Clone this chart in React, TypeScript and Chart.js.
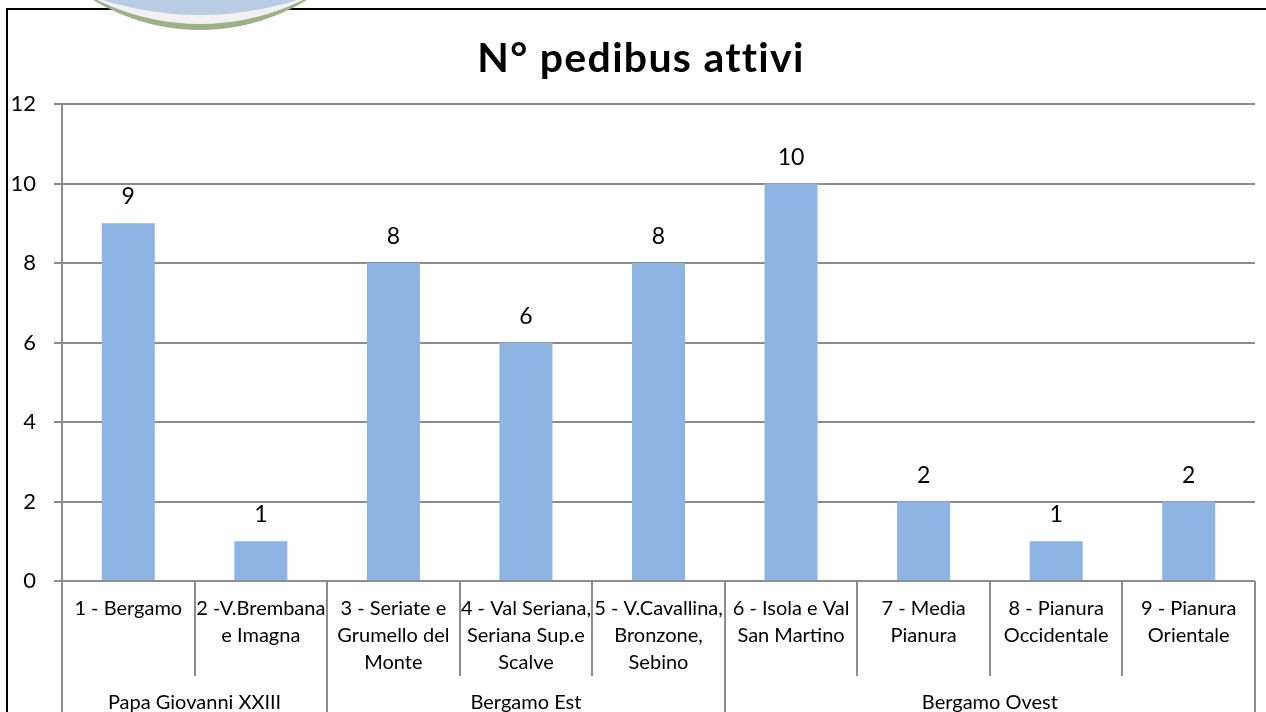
import React, { useEffect, useRef } from "react";
import { Chart, registerables } from "chart.js";

Chart.register(...registerables);

const categories: string[][] = [
  ["1 - Bergamo"],
  ["2 -V.Brembana", "e Imagna"],
  ["3 - Seriate e", "Grumello del", "Monte"],
  ["4 - Val Seriana,", "Seriana Sup.e", "Scalve"],
  ["5 - V.Cavallina,", "Bronzone,", "Sebino"],
  ["6 - Isola e Val", "San Martino"],
  ["7 - Media", "Pianura"],
  ["8 - Pianura", "Occidentale"],
  ["9 - Pianura", "Orientale"],
];
const values: number[] = [9, 1, 8, 6, 8, 10, 2, 1, 2];
const groups: string[] = ["Papa Giovanni XXIII", "Bergamo Est", "Bergamo Ovest"];
const groupStarts: number[] = [0, 2, 5];
const groupEnds: number[] = [2, 5, 9];
const titleText = "N° pedibus attivi";

const FONT = "Lato, 'Open Sans', sans-serif";
const GRID = "#8c8c8c";

const drawPlugin = {
  id: "custom",
  beforeDraw(chart: any) {
    const { ctx, width, height } = chart;
    ctx.save();
    ctx.fillStyle = "#fff";
    ctx.fillRect(0, 0, width, height);
    ctx.strokeStyle = "#000";
    ctx.lineWidth = 2;
    ctx.beginPath();
    ctx.moveTo(7, height + 5);
    ctx.lineTo(7, 9);
    ctx.lineTo(width + 5, 9);
    ctx.stroke();
    ctx.restore();
  },
  afterDraw(chart: any) {
    const { ctx, chartArea } = chart;
    const x = chart.scales.x;
    const y = chart.scales.y;
    const n = categories.length;
    const cw = (chartArea.right - chartArea.left) / n;
    ctx.save();
    // data labels
    ctx.fillStyle = "#000";
    ctx.font = `23px ${FONT}`;
    ctx.textAlign = "center";
    ctx.textBaseline = "alphabetic";
    values.forEach((v, i) => {
      ctx.fillText(String(v), x.getPixelForValue(i), y.getPixelForValue(v) - 19);
    });
    // category area lines
    ctx.strokeStyle = GRID;
    ctx.lineWidth = 2;
    const b = chartArea.bottom;
    for (let i = 0; i <= n; i++) {
      const px = Math.round(chartArea.left + i * cw);
      const isGroup = groupStarts.includes(i) || i === n;
      ctx.beginPath();
      ctx.moveTo(px, b);
      ctx.lineTo(px, isGroup ? chart.height + 5 : b + 95);
      ctx.stroke();
    }
    // category labels
    ctx.font = `20px ${FONT}`;
    ctx.textBaseline = "middle";
    categories.forEach((lines, i) => {
      const cx = x.getPixelForValue(i);
      lines.forEach((t, j) => ctx.fillText(t, cx, b + 28 + j * 27));
    });
    groups.forEach((g, k) => {
      const cx = chartArea.left + ((groupStarts[k] + groupEnds[k]) / 2) * cw;
      ctx.fillText(g, cx, b + 122);
    });
    // title
    ctx.font = `bold 41px ${FONT}`;
    ctx.textBaseline = "alphabetic";
    (ctx as any).letterSpacing = "1.3px";
    ctx.fillText(titleText, 641, 72);
    (ctx as any).letterSpacing = "0px";
    // decorative circle
    const circ = (cy: number, r: number, col: string) => {
      ctx.beginPath();
      ctx.arc(200, cy, r, 0, Math.PI * 2);
      ctx.fillStyle = col;
      ctx.fill();
    };
    circ(-176, 206, "#9cb08a");
    circ(-209, 233, "#f1f1f1");
    circ(-306, 321, "#b8cce4");
    ctx.restore();
  },
};

export default function App() {
  const ref = useRef<HTMLCanvasElement | null>(null);
  useEffect(() => {
    if (!ref.current) return;
    const chart = new Chart(ref.current, {
      type: "bar",
      data: {
        labels: categories.map((c) => c.join(" ")),
        datasets: [
          {
            data: values,
            backgroundColor: "#8eb4e3",
            barPercentage: 0.4,
            categoryPercentage: 1,
          },
        ],
      },
      options: {
        animation: false,
        responsive: false,
        layout: { padding: { left: 0, right: 11, top: 104, bottom: 131 } },
        plugins: { legend: { display: false }, tooltip: { enabled: false }, title: { display: false } },
        scales: {
          x: { display: false },
          y: {
            min: 0,
            max: 12,
            ticks: { stepSize: 2, color: "#000", font: { family: FONT, size: 22 }, padding: 18 },
            grid: { color: GRID, lineWidth: 2, tickLength: 8 },
            border: { color: GRID, width: 2 },
            afterFit: (s: any) => {
              s.width = 62;
            },
          },
        },
      },
      plugins: [drawPlugin],
    });
    return () => chart.destroy();
  }, []);
  return (
    <div style={{ position: "absolute", left: 0, top: 0, width: 1266, height: 712 }}>
      <canvas ref={ref} width={1266} height={712} />
    </div>
  );
}
